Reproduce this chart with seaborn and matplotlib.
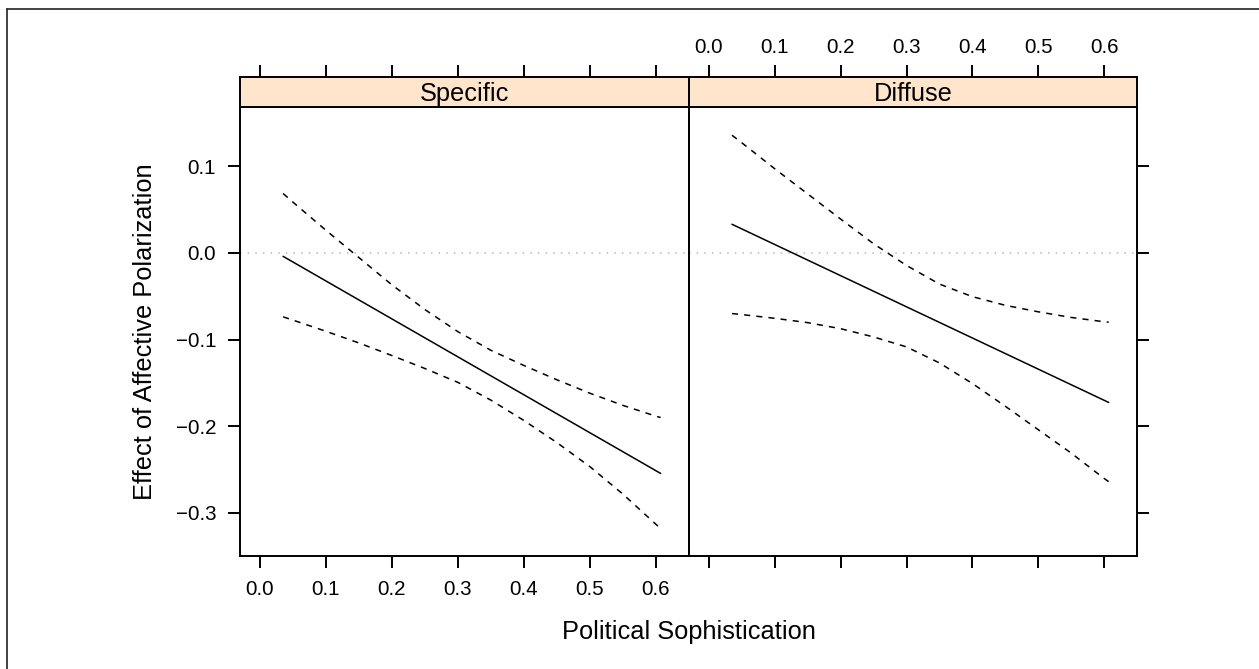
import matplotlib
matplotlib.use("Agg")
import matplotlib.pyplot as plt
import seaborn as sns
import pandas as pd
from matplotlib.lines import Line2D

# ---- data ----
panels = ["Specific", "Diffuse"]

fit_x = [0.035, 0.607]
specific_fit = [-0.004, -0.2545]
diffuse_fit = [0.033, -0.1726]

band_x = [0.035, 0.05, 0.1, 0.15, 0.2, 0.25, 0.3, 0.35, 0.4, 0.45, 0.5, 0.55, 0.6, 0.607]
specific_upper = [0.0685, 0.0585, 0.026, -0.0055, -0.037, -0.0655, -0.091, -0.1125,
                  -0.130, -0.1465, -0.162, -0.176, -0.1885, -0.190]
specific_lower = [-0.0738, -0.0776, -0.0905, -0.104, -0.1185, -0.1335, -0.1495, -0.170,
                  -0.1935, -0.219, -0.2468, -0.2785, -0.3133, -0.318]
diffuse_upper = [0.1358, 0.127, 0.097, 0.068, 0.039, 0.0105, -0.0145, -0.036,
                 -0.0505, -0.0605, -0.068, -0.0745, -0.0795, -0.080]
diffuse_lower = [-0.070, -0.0712, -0.0755, -0.0805, -0.0875, -0.097, -0.1085, -0.127,
                 -0.1507, -0.177, -0.204, -0.231, -0.2603, -0.264]

x_ticks = [0.0, 0.1, 0.2, 0.3, 0.4, 0.5, 0.6]
y_ticks = [-0.3, -0.2, -0.1, 0.0, 0.1]

series = {
    "Specific": {"fit": (fit_x, specific_fit), "upper": (band_x, specific_upper),
                 "lower": (band_x, specific_lower)},
    "Diffuse": {"fit": (fit_x, diffuse_fit), "upper": (band_x, diffuse_upper),
                "lower": (band_x, diffuse_lower)},
}
rows = []
for p in panels:
    for band, (xs, ys) in series[p].items():
        for xv, yv in zip(xs, ys):
            rows.append({"panel": p, "band": band, "x": xv, "y": yv})
df = pd.DataFrame(rows)

# ---- style ----
sns.set_theme(style="white")
plt.rcParams["font.family"] = ["Liberation Sans", "DejaVu Sans"]
plt.rcParams["axes.unicode_minus"] = True

W, H = 1259, 669
fig = plt.figure(figsize=(W / 100, H / 100), dpi=100)
fig.patch.set_facecolor("white")

def fx(px):
    return px / W

def fy(py):
    return 1 - py / H

panel_left = [240, 689]
panel_right = [689, 1137]
panel_top, panel_bottom = 107.3, 556
strip_top = 76.7

xlim = (-0.0303, 0.65)
ylim = (-0.3498, 0.168)

tick_fs = 14.8
lab_fs = 18.3
tick_len = 8.6
spine_lw = 1.4
line_lw = 1.1

for i, p in enumerate(panels):
    l, r = panel_left[i], panel_right[i]
    ax = fig.add_axes([fx(l), fy(panel_bottom), fx(r) - fx(l), fy(panel_top) - fy(panel_bottom)])
    sub = df[df["panel"] == p]
    ax.axhline(0, color="#b8b8b8", lw=1.1, linestyle=(0, (1, 4)), zorder=1)
    for band in ["fit", "upper", "lower"]:
        d = sub[sub["band"] == band]
        sns.lineplot(data=d, x="x", y="y", ax=ax, color="black", lw=line_lw,
                     estimator=None, sort=False,
                     linestyle="-" if band == "fit" else (0, (4, 4)), zorder=3)
    ax.set_xlim(*xlim)
    ax.set_ylim(*ylim)
    ax.set_xticks(x_ticks)
    ax.set_yticks(y_ticks)
    ax.set_xlabel("")
    ax.set_ylabel("")
    for s in ax.spines.values():
        s.set_color("black")
        s.set_linewidth(spine_lw)
    ax.tick_params(axis="both", direction="out", length=tick_len, width=spine_lw,
                   colors="black", labelsize=tick_fs)
    ax.tick_params(axis="x", pad=9.0)
    ax.tick_params(axis="y", pad=8.6)
    if i == 0:
        ax.tick_params(axis="x", bottom=True, labelbottom=True, top=False, labeltop=False)
        ax.tick_params(axis="y", left=True, labelleft=True, right=False, labelright=False)
        ax.set_xticklabels([f"{v:.1f}" for v in x_ticks])
        ax.set_yticklabels([f"{v:.1f}".replace("-", "\u2212") for v in y_ticks])
    else:
        ax.tick_params(axis="x", bottom=True, labelbottom=False, top=False, labeltop=False)
        ax.tick_params(axis="y", left=False, labelleft=False, right=True, labelright=False)
    ax.set_facecolor("white")

    # strip
    sax = fig.add_axes([fx(l), fy(panel_top), fx(r) - fx(l), fy(strip_top) - fy(panel_top)])
    sax.set_facecolor("#ffe5cc")
    sax.set_xlim(*xlim)
    sax.set_ylim(0, 1)
    sax.set_xticks(x_ticks)
    sax.set_yticks([])
    for s in sax.spines.values():
        s.set_color("black")
        s.set_linewidth(spine_lw)
    sax.tick_params(axis="x", direction="out", length=tick_len, width=spine_lw,
                    colors="black", labelsize=tick_fs, pad=5.5,
                    bottom=False, labelbottom=False, top=True,
                    labeltop=(i == 1))
    if i == 1:
        sax.set_xticklabels([f"{v:.1f}" for v in x_ticks])
    sax.text(0.5, 0.206, p, transform=sax.transAxes, ha="center", va="baseline",
             fontsize=lab_fs, color="black")

fig.text(fx(689), fy(639), "Political Sophistication", ha="center", va="baseline",
         fontsize=lab_fs, color="black")
fig.text(fx(145), fy(331.5), "Effect of Affective Polarization", ha="center", va="center",
         rotation=90, fontsize=lab_fs, color="black")

# outer frame (left and top edges visible)
fig.add_artist(Line2D([fx(6.7), fx(6.7)], [0, fy(9)], transform=fig.transFigure,
                      color="#222222", lw=1.2))
fig.add_artist(Line2D([fx(6.7), 1], [fy(9), fy(9)], transform=fig.transFigure,
                      color="#222222", lw=1.2))

fig.savefig("out.png", dpi=100, facecolor="white")
